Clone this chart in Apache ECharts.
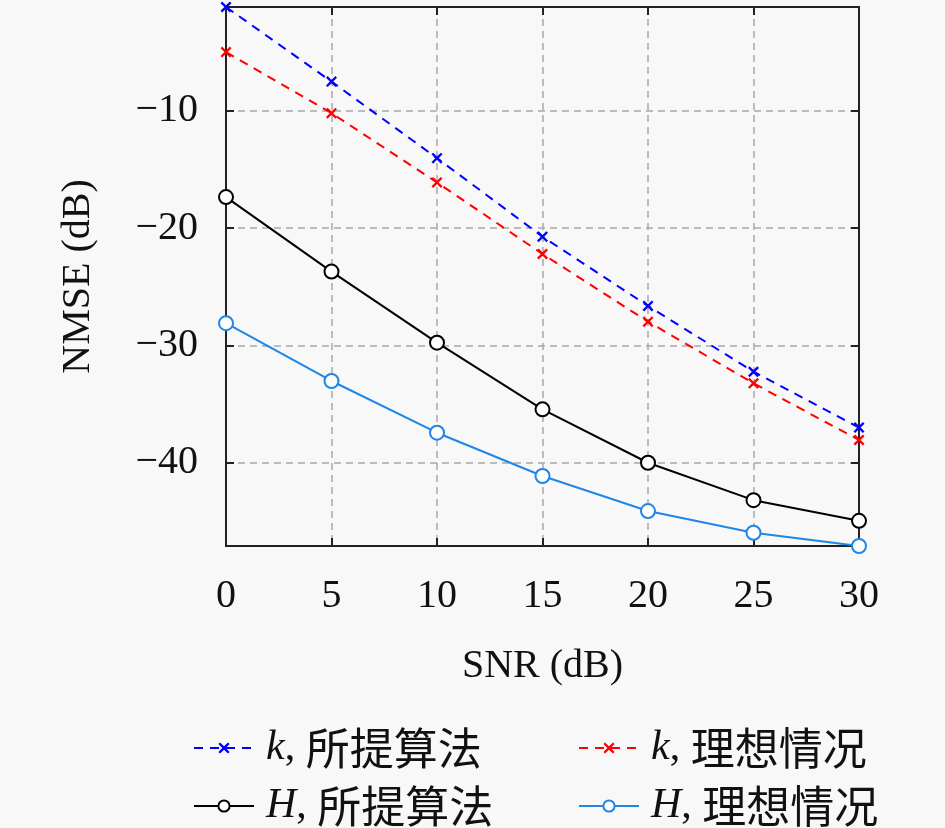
<!DOCTYPE html>
<html>
<head>
<meta charset="utf-8">
<script src="https://cdn.jsdelivr.net/npm/echarts@6/dist/echarts.min.js"></script>
<style>
  html, body { margin: 0; padding: 0; background: #f8f8f8; }
  #main { width: 945px; height: 828px; }
</style>
</head>
<body>
<div id="main"></div>
<script>
// SNR (dB) on x
var snr = [0, 5, 10, 15, 20, 25, 30];

// NMSE (dB)
var kProposed = [-1.14, -7.5, -14.03, -20.72, -26.63, -32.24, -37.0];
var kIdeal = [-4.98, -10.19, -16.1, -22.2, -27.97, -33.23, -38.06];
var hProposed = [-17.35, -23.7, -29.76, -35.45, -40.0, -43.19, -44.95];
var hIdeal = [-28.1, -33.03, -37.44, -41.13, -44.12, -45.97, -47.1];

var xTicks = [0, 5, 10, 15, 20, 25, 30];

var chartDom = document.getElementById('main');
var myChart = echarts.init(chartDom);

var serif = '"Liberation Serif", "DejaVu Serif", serif';
var cjk = '"Noto Sans CJK SC", sans-serif';
var crossPath = 'path://M0,1.5L1.5,0L5,3.5L8.5,0L10,1.5L6.5,5L10,8.5L8.5,10L5,6.5L1.5,10L0,8.5L3.5,5Z';

function pairs(ys) {
  return snr.map(function (x, i) { return [x, ys[i]]; });
}

function minus(v) {
  return String(v).replace('-', '\u2212');
}

var legendRich = {
  i: { fontFamily: serif, fontStyle: 'italic', fontSize: 42, lineHeight: 44, color: '#111', padding: [0, 0, 0, 7] },
  n: { fontFamily: serif, fontSize: 42, lineHeight: 44, color: '#111' },
  c: { fontFamily: cjk, fontSize: 44, lineHeight: 44, color: '#111' }
};

function legendFmt(name) {
  var parts = name.split('|');
  return '{i|' + parts[0] + '}{n|, }{c|' + parts[1] + '}';
}

var gridLine = { show: true, lineStyle: { color: '#a8a8a8', width: 1.5, type: [7, 5] } };
var axisLine = { show: true, onZero: false, lineStyle: { color: '#222', width: 2 } };
var tick = { show: true, inside: true, length: 8, lineStyle: { color: '#222', width: 2 } };

var option = {
  backgroundColor: '#f8f8f8',
  animation: false,
  grid: { left: 226, right: 86, top: 7, bottom: 282 },
  legend: [
    {
      data: ['k|所提算法', 'H|所提算法'],
      orient: 'vertical',
      left: 193, top: 726, padding: 0,
      itemWidth: 60, itemHeight: 14, itemGap: 14,
      formatter: legendFmt,
      textStyle: { rich: legendRich }
    },
    {
      data: ['k|理想情况', 'H|理想情况'],
      orient: 'vertical',
      left: 578, top: 726, padding: 0,
      itemWidth: 60, itemHeight: 14, itemGap: 14,
      formatter: legendFmt,
      textStyle: { rich: legendRich }
    }
  ],
  xAxis: [
    {
      type: 'value', min: 0, max: 30, interval: 5,
      name: 'SNR (dB)', nameLocation: 'middle', nameGap: 100,
      nameTextStyle: { fontFamily: serif, fontSize: 40, color: '#111' },
      axisLine: axisLine, axisTick: tick, splitLine: gridLine,
      axisLabel: {
        fontFamily: serif, fontSize: 40, color: '#111', margin: 30,
        formatter: function (v) { return xTicks.indexOf(v) >= 0 ? minus(v) : ''; }
      }
    },
    {
      type: 'value', position: 'top', min: 0, max: 30, interval: 5,
      axisLine: axisLine, axisTick: tick, splitLine: { show: false },
      axisLabel: { show: false }
    }
  ],
  yAxis: [
    {
      type: 'value', min: -47.1, max: -1.14, splitNumber: 5,
      name: 'NMSE (dB)', nameLocation: 'middle', nameGap: 128,
      nameTextStyle: { fontFamily: serif, fontSize: 40, color: '#111' },
      axisLine: axisLine, axisTick: tick, splitLine: gridLine,
      axisLabel: {
        fontFamily: serif, fontSize: 40, color: '#111', margin: 28,
        showMinLabel: false, showMaxLabel: false,
        formatter: function (v) { return v % 10 === 0 ? minus(v) : ''; }
      }
    },
    {
      type: 'value', position: 'right', min: -47.1, max: -1.14, splitNumber: 5,
      axisLine: axisLine, axisTick: tick, splitLine: { show: false },
      axisLabel: { show: false }
    }
  ],
  series: [
    {
      name: 'k|所提算法', type: 'line', data: pairs(kProposed),
      symbol: crossPath, symbolSize: 11,
      itemStyle: { color: '#0000ff' },
      lineStyle: { color: '#0000ff', width: 2, type: [9, 7] }
    },
    {
      name: 'k|理想情况', type: 'line', data: pairs(kIdeal),
      symbol: crossPath, symbolSize: 11,
      itemStyle: { color: '#ff0000' },
      lineStyle: { color: '#ff0000', width: 2, type: [9, 7] }
    },
    {
      name: 'H|所提算法', type: 'line', data: pairs(hProposed),
      symbol: 'emptyCircle', symbolSize: 14,
      itemStyle: { color: '#000000', borderColor: '#000000', borderWidth: 2 },
      lineStyle: { color: '#000000', width: 2 }
    },
    {
      name: 'H|理想情况', type: 'line', data: pairs(hIdeal),
      symbol: 'emptyCircle', symbolSize: 14,
      itemStyle: { color: '#1f86e8', borderColor: '#1f86e8', borderWidth: 2 },
      lineStyle: { color: '#1f86e8', width: 2 }
    }
  ]
};

option && myChart.setOption(option);
</script>
</body>
</html>
